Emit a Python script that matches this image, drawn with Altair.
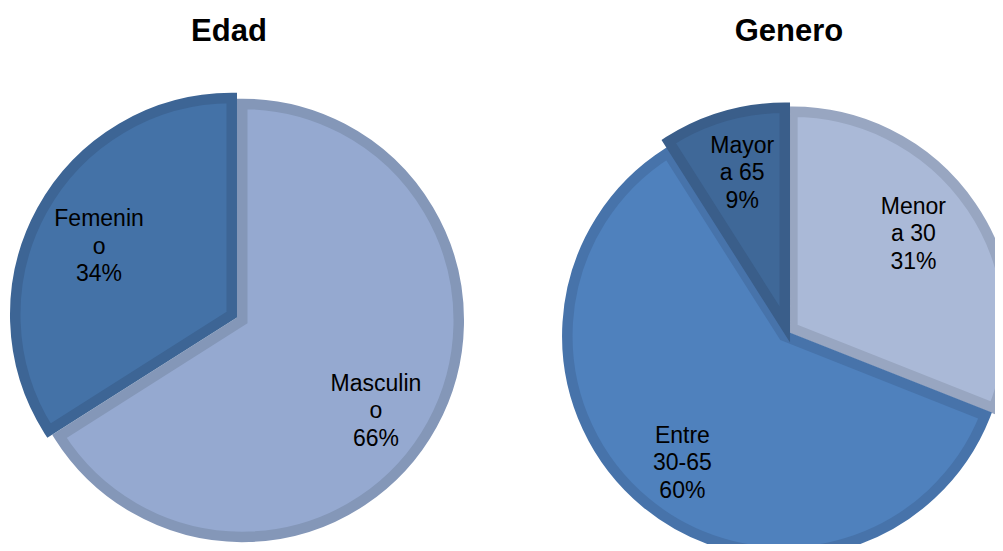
import math
import altair as alt
import pandas as pd

# ---- data ----
edad_title = "Edad"
edad_cats = ["Masculino", "Femenino"]
edad_vals = [66, 34]
edad_lines = ["Masculin\no", "Femenin\no"]

genero_title = "Genero"
genero_cats = ["Menor a 30", "Entre 30-65", "Mayor a 65"]
genero_vals = [31, 60, 9]
genero_lines = ["Menor\na 30", "Entre\n30-65", "Mayor\na 65"]

# ---- styles ----
edad_fill = ["#95A9D0", "#4472A7"]
edad_stroke = ["#8497B8", "#3D6595"]
genero_fill = ["#AAB9D7", "#4F81BD", "#3F6898"]
genero_stroke = ["#98A6C1", "#4773AA", "#3A5E8A"]

# slice explosion (pixels) and small label nudges (pixels)
edad_explode = [6, 6]
genero_explode = [6.5, 5, 8]
edad_nudge = [(-3, 15.5), (4, 7.5)]
genero_nudge = [(-8, -6.5), (-2, 7), (1, -1.5)]

FONT = "Liberation Sans"
LINE_H = 27.5


def pie(title, cats, vals, lines, fills, strokes, nudges, explode, w, h,
        cx_shift, cy_shift, title_dx):
    df = pd.DataFrame({"cat": cats, "value": vals, "lines": lines,
                       "order": list(range(len(cats)))})
    total = sum(vals)
    base = alt.Chart(df).transform_window(
        end="sum(value)", sort=[alt.SortField("order")], frame=[None, 0]
    ).transform_calculate(
        start="datum.end - datum.value",
        mid="datum.end - datum.value / 2",
        label="datum.lines + '\\n' + datum.value + '%'",
    )
    theta_scale = alt.Scale(domain=[0, total])
    arcs, texts = [], []
    cum = 0
    for i, c in enumerate(cats):
        ang = 2 * math.pi * (cum + vals[i] / 2) / total
        cum += vals[i]
        dx = cx_shift + explode[i] * math.sin(ang)
        dy = cy_shift - explode[i] * math.cos(ang)
        sub = base.transform_filter(alt.datum.cat == c)
        arcs.append(
            sub.mark_arc(fill=fills[i], stroke=strokes[i], strokeWidth=10.5,
                         radius=216.5, xOffset=dx, yOffset=dy, clip=True).encode(
                theta=alt.Theta("start:Q", scale=theta_scale),
                theta2="end:Q",
            )
        )
        texts.append(
            sub.mark_text(radius=156, xOffset=dx + nudges[i][0],
                          yOffset=dy + nudges[i][1], dy=-LINE_H,
                          font=FONT, fontSize=23, lineBreak="\n",
                          lineHeight=LINE_H, color="black", align="center",
                          baseline="middle").encode(
                theta=alt.Theta("mid:Q", scale=theta_scale, stack=None),
                text="label:N",
            )
        )
    return alt.layer(*arcs, *texts).properties(
        width=w, height=h,
        title=alt.TitleParams(title, fontSize=31, font=FONT, fontWeight="bold",
                              color="black", anchor="middle", dx=title_dx, offset=4),
    )


left = pie(edad_title, edad_cats, edad_vals, edad_lines, edad_fill, edad_stroke,
           edad_nudge, edad_explode, 458, 492, 0, 19.5, -8)
right = pie(genero_title, genero_cats, genero_vals, genero_lines, genero_fill,
            genero_stroke, genero_nudge, genero_explode, 509, 492, 46.5, 34, 48.5)

chart = alt.hconcat(left, right, spacing=20).properties(
    padding={"left": 0, "top": 8, "right": 0, "bottom": 0},
    background="white",
).configure_view(stroke=None)

chart.save("out.html", embed_options={"renderer": "svg", "actions": False})
